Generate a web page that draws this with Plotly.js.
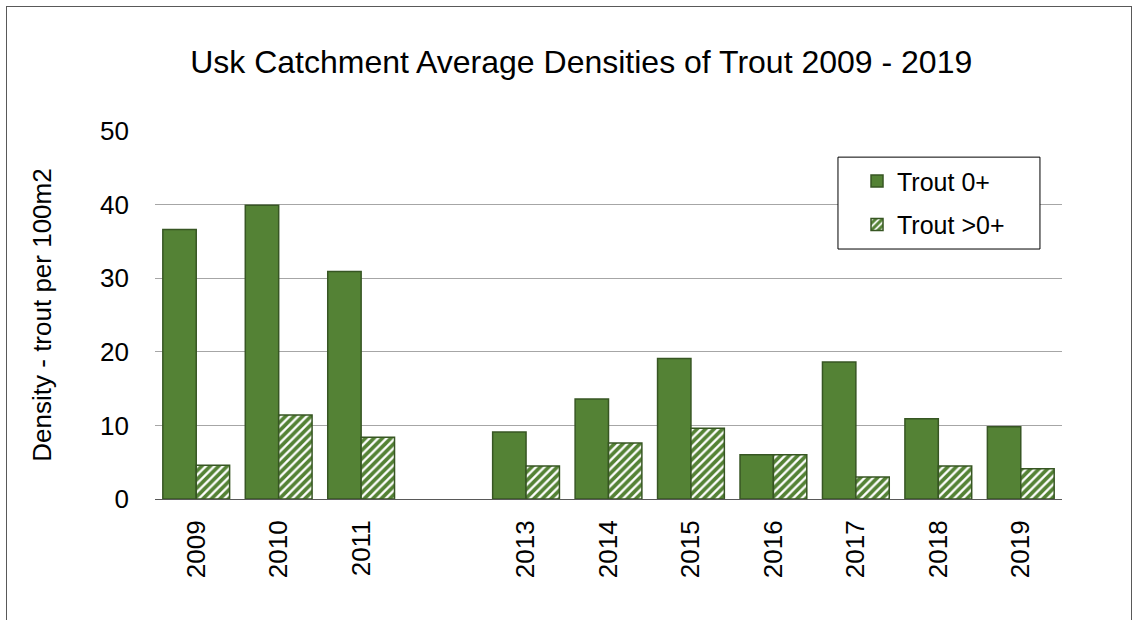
<!DOCTYPE html>
<html><head><meta charset="utf-8">
<script src="https://cdn.plot.ly/plotly-3.0.1.min.js"></script>
<style>
html,body{margin:0;padding:0;background:#fff;}
#chart{width:1133px;height:620px;}
#frame{position:absolute;left:6px;top:6px;width:1124px;height:700px;border:1px solid #595959;pointer-events:none;}
</style></head>
<body>
<div id="chart"></div>
<div id="frame"></div>
<script>
const years = ['2009','2010','2011','2012','2013','2014','2015','2016','2017','2018','2019'];
const tickLabels = ['2009','2010','2011','','2013','2014','2015','2016','2017','2018','2019'];
const trout0 = [36.6, 39.9, 30.9, null, 9.1, 13.6, 19.1, 6.0, 18.6, 10.9, 9.8];
const troutOlder = [4.6, 11.4, 8.4, null, 4.5, 7.6, 9.6, 6.0, 3.0, 4.5, 4.1];

const font = 'Liberation Sans, Arial, sans-serif';
const data = [
  {type:'bar', name:'Trout 0+', x:years, y:trout0, legendgroup:'a',
   marker:{color:'#548235', line:{color:'#375623', width:1.5}}},
  {type:'bar', name:'Trout >0+', x:years, y:troutOlder, legendgroup:'b',
   marker:{color:'#ffffff', line:{color:'#375623', width:1.5},
     pattern:{shape:'/', fgcolor:'#548235', bgcolor:'#ffffff', fgopacity:1, size:6, solidity:0.62, fillmode:'replace'}}}
];
const layout = {
  width:1133, height:620,
  margin:{l:155, r:71, t:131, b:121},
  paper_bgcolor:'#fff', plot_bgcolor:'#fff',
  font:{family:font, color:'#000', size:26},
  title:{text:'Usk Catchment Average Densities of Trout 2009 - 2019', font:{size:32, family:font, color:'#000'},
    x:0.513, xref:'container', xanchor:'center', y:0.9, yref:'container', yanchor:'middle'},
  barmode:'group', bargap:0.19, bargroupgap:0,
  xaxis:{type:'category', categoryorder:'array', categoryarray:years,
    tickvals:years, ticktext:tickLabels, tickangle:-90, showgrid:false,
    showline:true, linecolor:'#595959', linewidth:1, ticks:'', tickfont:{size:26}, ticklabelstandoff:10},
  yaxis:{range:[0,50], dtick:10, tick0:0, showgrid:true, gridcolor:'#a6a6a6', gridwidth:1,
    zeroline:false, showline:false, ticks:'', tickfont:{size:26}, ticklabelstandoff:25,
    title:{text:'Density - trout per 100m2', font:{size:26}, standoff:40}},
  shapes:[{type:'rect', xref:'paper', yref:'paper', x0:0.753, x1:0.9757, y0:0.6793, y1:0.929,
    line:{color:'#000', width:1}, fillcolor:'#fff', layer:'above'}],
  showlegend:true,
  legend:{x:0.774, y:0.926, xanchor:'left', yanchor:'top', bgcolor:'rgba(0,0,0,0)',
    borderwidth:0, font:{size:25},
    traceorder:'grouped', tracegroupgap:8, itemwidth:30}
};
Plotly.newPlot('chart', data, layout, {displayModeBar:false, staticPlot:true});
</script>
</body></html>
